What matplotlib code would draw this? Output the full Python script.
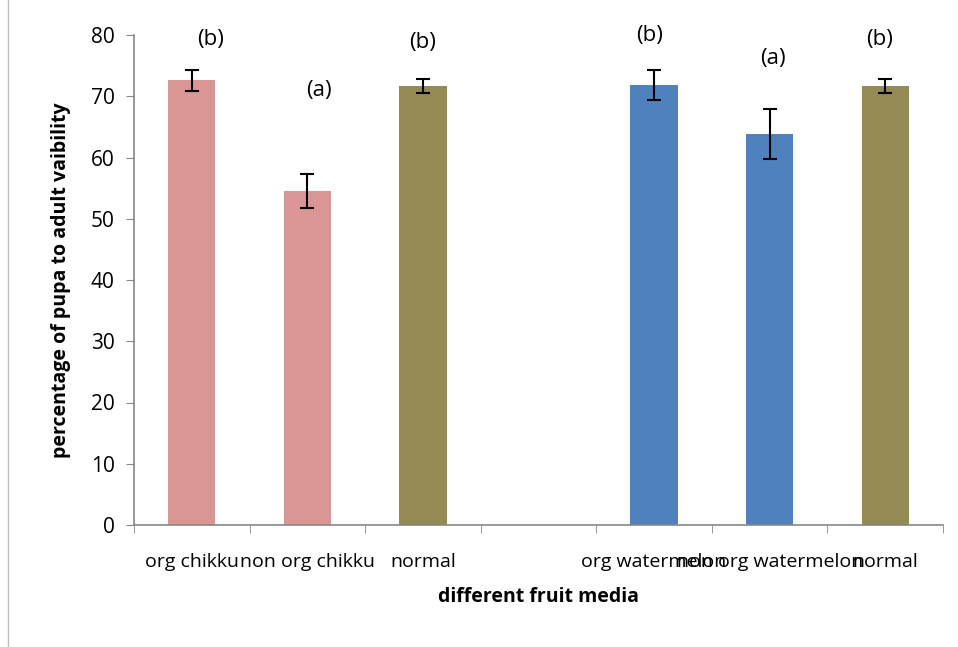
import matplotlib
matplotlib.use('Agg')
import matplotlib.pyplot as plt
import numpy as np

categories = ['org chikku', 'non org chikku', 'normal', '', 'org watermelon', 'non org watermelon', 'normal']
values = [72.6, 54.5, 71.7, np.nan, 71.8, 63.8, 71.7]
errors = [1.7, 2.8, 1.1, 0, 2.45, 4.05, 1.1]
colors = ['#D99694', '#D99694', '#948A54', '#FFFFFF', '#4F81BD', '#4F81BD', '#948A54']
letters = ['(b)', '(a)', '(b)', '', '(b)', '(a)', '(b)']
letter_x = [0.16, 0.1, 0.0, 0, -0.04, 0.03, -0.05]
letter_y = [79.2, 71.0, 78.7, 0, 80.0, 76.2, 79.2]

plt.rcParams['font.family'] = ['Open Sans', 'DejaVu Sans']

fig = plt.figure(figsize=(9.58, 6.47), dpi=100)
ax = fig.add_axes([134/958, 1 - 525/647, (943-134)/958, (525-35)/647])

x = np.arange(len(categories))
ax.bar(x, values, width=0.41, color=colors)
ok = ~np.isnan(values)
ax.errorbar(x[ok], np.array(values)[ok], yerr=np.array(errors)[ok], fmt='none',
            ecolor='black', elinewidth=1.5, capsize=5, capthick=1.5)

for i in range(len(categories)):
    if letters[i]:
        ax.text(x[i] + letter_x[i], letter_y[i], letters[i], ha='center', va='center', fontsize=16)

ax.set_xlim(-0.5, len(categories) - 0.5)
ax.set_ylim(0, 80)
ax.set_yticks(np.arange(0, 81, 10))
ax.set_xticks(x)
ax.set_xticklabels(categories, fontsize=14)
ax.set_xticks(np.arange(-0.5, len(categories)), minor=True)
ax.tick_params(axis='x', which='major', length=0, pad=20)
ax.tick_params(axis='x', which='minor', length=6, color='#868686', direction='out')
ax.tick_params(axis='y', labelsize=15, length=6, color='#868686', direction='out', pad=8)

for s in ['top', 'right']:
    ax.spines[s].set_visible(False)
for s in ['left', 'bottom']:
    ax.spines[s].set_color('#868686')
    ax.spines[s].set_linewidth(1.2)

ax.set_ylabel('percentage of pupa to adult vaibility', fontsize=14, fontweight='bold', labelpad=14)
ax.set_xlabel('different fruit media', fontsize=14, fontweight='bold', labelpad=12)

fig.patches.append(plt.Rectangle((8/958, -0.01), 1, 1.02, transform=fig.transFigure,
                                 fill=False, edgecolor='#BFBFBF', linewidth=1))

fig.savefig('out.png', dpi=100)
